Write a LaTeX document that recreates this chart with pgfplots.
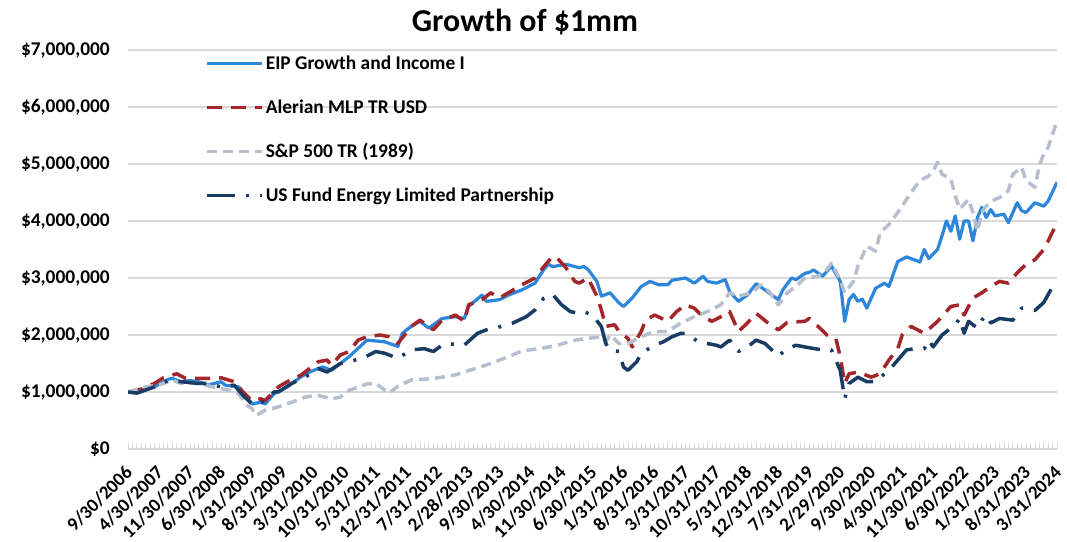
\documentclass[border=0pt]{standalone}
\usepackage{pgfplots}
\usepackage{pgfplotstable}
\pgfplotsset{compat=1.18}
\usepackage{fontspec}
\setmainfont{Carlito}
\definecolor{eipblue}{RGB}{46,134,218}
\definecolor{amred}{RGB}{163,38,42}
\definecolor{spgray}{RGB}{182,191,206}
\definecolor{usnavy}{RGB}{24,60,100}
\definecolor{gridgray}{RGB}{217,217,217}

\pgfplotstableread{
m v
0 1.00
2 1.00
4 1.05
6 1.09
9 1.22
10 1.24
12 1.18
14 1.20
16 1.18
18 1.12
21 1.18
22 1.12
25 1.09
27 0.91
28 0.79
30 0.82
31 0.79
33 0.97
36 1.09
39 1.26
41 1.35
44 1.44
46 1.38
48 1.50
50 1.62
54 1.91
58 1.88
61 1.80
62 2.03
64 2.15
66 2.24
68 2.12
71 2.29
74 2.32
76 2.29
77 2.50
80 2.70
81 2.59
84 2.62
86 2.70
89 2.79
92 2.91
94 3.15
95 3.24
96 3.20
99 3.24
102 3.18
103 3.20
104 3.15
106 2.94
107 2.68
109 2.74
111 2.56
112 2.50
114 2.65
116 2.85
118 2.94
120 2.88
122 2.88
123 2.96
126 3.00
128 2.91
130 3.03
131 2.94
133 2.91
135 2.97
136 2.76
138 2.59
140 2.70
142 2.90
144 2.79
147 2.62
148 2.79
150 3.00
151 2.97
153 3.08
154 3.10
155 3.14
157 3.03
158 3.12
159 3.21
161 2.94
162 2.24
163 2.62
164 2.71
165 2.59
166 2.63
167 2.47
169 2.82
171 2.91
172 2.85
174 3.29
176 3.37
177 3.34
179 3.28
180 3.50
181 3.34
183 3.50
184 3.74
185 4.00
186 3.82
187 4.09
188 3.68
189 4.00
190 4.00
191 3.65
192 4.06
193 4.24
194 4.06
195 4.20
196 4.09
198 4.12
199 3.97
201 4.32
202 4.18
203 4.15
205 4.32
207 4.26
208 4.35
210 4.68
}\eip

\pgfplotstableread{
m v
0 1.00
3 1.05
6 1.15
8 1.25
11 1.32
13 1.24
16 1.24
19 1.24
21 1.25
24 1.18
26 1.00
28 0.85
30 0.88
31 0.85
34 1.09
36 1.18
39 1.29
40 1.35
43 1.53
45 1.56
46 1.47
48 1.65
50 1.71
52 1.91
54 1.97
57 2.00
59 1.97
61 1.85
64 2.15
66 2.26
68 2.15
69 2.09
71 2.26
74 2.35
76 2.24
77 2.53
80 2.62
82 2.74
84 2.65
86 2.74
89 2.88
92 3.00
94 3.20
96 3.38
97 3.35
99 3.18
101 2.94
102 2.91
104 3.00
106 2.68
107 2.44
108 2.15
110 2.18
111 2.06
113 1.94
114 1.79
116 2.06
117 2.26
119 2.35
122 2.24
124 2.41
126 2.53
128 2.47
130 2.32
132 2.24
134 2.32
136 2.41
138 2.06
140 2.21
142 2.38
145 2.19
147 2.09
149 2.22
153 2.24
154 2.29
156 2.15
158 2.00
160 1.94
161 1.62
162 1.15
163 1.32
165 1.35
167 1.29
168 1.26
170 1.32
172 1.56
174 1.76
175 2.00
177 2.15
180 2.03
183 2.24
186 2.50
188 2.53
189 2.35
191 2.65
193 2.74
195 2.85
197 2.94
199 2.91
201 3.09
203 3.24
205 3.32
207 3.50
208 3.65
210 3.97
}\alerian

\pgfplotstableread{
m v
0 1.00
4 1.09
7 1.12
10 1.21
12 1.15
16 1.15
19 1.09
21 1.06
23 1.03
25 0.97
27 0.76
28 0.71
29 0.59
31 0.68
34 0.74
37 0.82
40 0.91
43 0.94
46 0.88
48 0.91
50 1.03
54 1.14
56 1.15
59 0.98
61 1.10
64 1.21
68 1.23
71 1.26
74 1.30
78 1.40
82 1.50
86 1.62
89 1.72
93 1.76
97 1.82
101 1.91
104 1.94
107 1.97
108 1.88
109 2.00
111 1.85
113 1.85
116 1.97
119 2.06
122 2.06
125 2.21
128 2.32
131 2.41
134 2.53
136 2.74
138 2.68
141 2.74
143 2.88
145 2.76
147 2.53
149 2.74
151 2.85
153 3.00
156 3.03
158 3.15
159 3.26
161 2.97
162 2.74
164 2.94
165 3.21
167 3.56
169 3.47
170 3.79
172 3.94
174 4.15
176 4.38
177 4.50
179 4.71
181 4.79
182 4.88
183 5.03
184 4.82
186 4.74
187 4.44
188 4.21
190 4.38
191 4.15
192 3.82
193 4.15
194 4.26
196 4.38
197 4.41
199 4.53
200 4.82
202 4.94
203 4.71
205 4.59
206 4.97
207 5.18
208 5.29
210 5.76
}\spx

\pgfplotstableread{
m v
0 1.00
2 0.98
6 1.09
9 1.20
12 1.18
16 1.15
18 1.15
21 1.09
24 1.12
26 0.94
28 0.79
29 0.78
31 0.85
33 1.00
34 1.00
37 1.15
40 1.26
43 1.41
45 1.35
48 1.50
53 1.59
56 1.71
58 1.68
61 1.59
64 1.74
67 1.76
69 1.71
71 1.82
72 1.85
76 1.82
79 2.03
81 2.09
83 2.12
87 2.21
90 2.32
92 2.44
94 2.65
96 2.71
98 2.53
100 2.41
102 2.38
103 2.41
105 2.35
107 2.15
108 1.85
109 1.74
111 1.71
112 1.44
113 1.38
115 1.53
116 1.68
119 1.82
121 1.88
123 1.97
125 2.03
126 2.03
129 1.88
131 1.85
133 1.82
134 1.79
136 1.91
138 1.71
140 1.79
142 1.91
144 1.85
147 1.63
149 1.76
151 1.82
153 1.79
156 1.75
159 1.74
160 1.56
161 1.38
162 0.88
163 1.15
165 1.26
167 1.18
169 1.18
171 1.32
173 1.47
176 1.74
178 1.76
180 1.76
181 1.91
182 1.79
184 2.00
187 2.18
188 2.29
189 2.03
190 2.24
192 2.12
193 2.26
194 2.35
195 2.21
197 2.29
200 2.26
202 2.47
203 2.47
205 2.43
207 2.57
209 2.85
210 2.88
}\usfund

\begin{document}
\begin{tikzpicture}[x=1bp,y=1bp]
\useasboundingbox (0,0) rectangle (1067,542);
\node[anchor=base, inner sep=0pt, font=\fontsize{32}{38}\selectfont\bfseries] at (525,510) {Growth of \$1mm};
\begin{axis}[
  at={(128bp,93bp)}, anchor=south west,
  scale only axis, width=929bp, height=399bp,
  xmin=0, xmax=210, ymin=0, ymax=7,
  axis x line*=bottom, axis y line*=left,
  x axis line style={draw=gridgray, line width=1.5bp},
  y axis line style={draw=none},
  ytick={0,1,2,3,4,5,6,7},
  yticklabels={{\$0},{\$1,000,000},{\$2,000,000},{\$3,000,000},{\$4,000,000},{\$5,000,000},{\$6,000,000},{\$7,000,000}},
  ymajorgrids,
  major grid style={draw=gridgray, line width=1.5bp},
  ytick style={draw=none},
  xtick={0,7,...,210},
  xticklabels={9/30/2006,4/30/2007,11/30/2007,6/30/2008,1/31/2009,8/31/2009,3/31/2010,10/31/2010,5/31/2011,12/31/2011,7/31/2012,2/28/2013,9/30/2013,4/30/2014,11/30/2014,6/30/2015,1/31/2016,8/31/2016,3/31/2017,10/31/2017,5/31/2018,12/31/2018,7/31/2019,2/29/2020,9/30/2020,4/30/2021,11/30/2021,6/30/2022,1/31/2023,8/31/2023,3/31/2024},
  minor xtick={0,1,...,210},
  xtick style={draw=gridgray, line width=0.8bp},
  tick align=inside,
  major tick length=6bp, minor tick length=6bp,
  yticklabel style={font=\fontsize{19.5}{22}\selectfont\bfseries, anchor=east, inner sep=0pt},
  yticklabel shift=18bp,
  xticklabel style={font=\fontsize{19}{22}\selectfont\bfseries, xshift=-4bp, rotate=45, anchor=north east, inner sep=0pt},
  xticklabel shift=15bp,
  legend style={at={(0.083,0.99)}, anchor=north west, draw=none, fill=none, inner sep=0pt,
    row sep=24.5bp, font=\fontsize{19.5}{22}\selectfont\bfseries, nodes={inner sep=2bp}},
  legend cell align=left,
  legend image code/.code={\draw[#1] (0bp,0bp) -- (55bp,0bp);},
  every axis plot/.append style={line join=round, line cap=butt},
]
\addplot[eipblue, line width=3.2bp] table[x=m,y=v] {\eip};
\addlegendentry{EIP Growth and Income I}
\addplot[amred, line width=3.5bp, dash pattern=on 15bp off 9bp] table[x=m,y=v] {\alerian};
\addlegendentry{Alerian MLP TR USD}
\addplot[spgray, line width=3.5bp, dash pattern=on 10bp off 6bp] table[x=m,y=v] {\spx};
\addlegendentry{S\&P 500 TR (1989)}
\addplot[usnavy, line width=3.5bp, dash pattern=on 28bp off 11bp on 3bp off 11bp] table[x=m,y=v] {\usfund};
\addlegendentry{US Fund Energy Limited Partnership}
\end{axis}
\end{tikzpicture}
\end{document}
